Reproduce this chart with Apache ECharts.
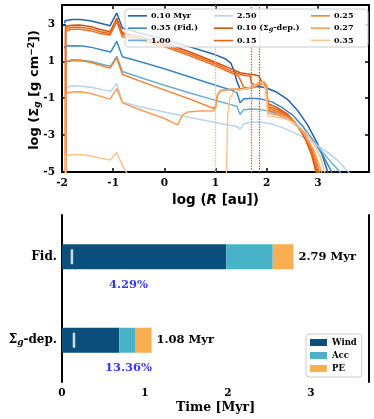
<!DOCTYPE html>
<html lang="en">
  <head>
    <meta charset="UTF-8" />
    <title>Disk dispersal</title>
    <script src="https://cdn.jsdelivr.net/npm/echarts@6/dist/echarts.min.js"></script>
    <style>
      html, body { margin: 0; padding: 0; background: #fff; }
    </style>
  </head>
  <body>
    <div id="main" style="width: 374px; height: 419px"></div>
    <script>
      // gas surface density profiles, [log R (au), log Sigma_g]
      // fiducial model
      const fid010 = [[-1.95,3.05],[-1.94,3.2],[-1.8,3.26],[-1.65,3.27],[-1.45,3.2],[-1.25,3.06],[-1.06,2.93],[-0.93,3.62],[-0.82,2.8],[-0.5,2.55],[0,2.2],[0.5,1.78],[1.0,1.35],[1.2,1.12],[1.3,0.9],[1.36,0.5],[1.42,-0.1],[1.48,-0.5],[1.55,-0.48],[1.7,-0.4],[1.85,-0.37],[2.0,-0.45],[2.2,-0.68],[2.4,-1.05],[2.6,-1.65],[2.8,-2.45],[3.0,-3.5],[3.1,-4.2],[3.2,-5.05]];
      const fid035 = [[-1.95,1.7],[-1.94,1.82],[-1.8,1.84],[-1.6,1.83],[-1.4,1.74],[-1.2,1.6],[-1.05,1.5],[-0.93,2.08],[-0.82,1.25],[-0.5,1.0],[0,0.6],[0.5,0.15],[1.0,-0.3],[1.3,-0.55],[1.42,-0.7],[1.48,-1.25],[1.55,-1.05],[1.7,-1.0],[1.9,-1.05],[2.1,-1.2],[2.3,-1.5],[2.5,-1.9],[2.7,-2.5],[2.9,-3.25],[3.1,-4.1],[3.28,-5.05]];
      const fid100 = [[-1.95,0.95],[-1.94,1.05],[-1.8,1.08],[-1.6,1.06],[-1.4,0.97],[-1.2,0.83],[-1.05,0.73],[-0.93,1.27],[-0.82,0.45],[-0.5,0.15],[0,-0.3],[0.5,-0.72],[1.0,-1.12],[1.3,-1.35],[1.42,-1.45],[1.48,-1.88],[1.55,-1.62],[1.7,-1.58],[1.9,-1.62],[2.1,-1.75],[2.3,-1.98],[2.5,-2.3],[2.7,-2.75],[2.9,-3.3],[3.1,-3.95],[3.3,-4.6],[3.45,-5.05]];
      const fid250 = [[-1.95,-0.45],[-1.94,-0.36],[-1.8,-0.33],[-1.6,-0.35],[-1.4,-0.42],[-1.2,-0.55],[-1.05,-0.63],[-0.93,-0.2],[-0.82,-1.2],[-0.5,-1.45],[0,-1.75],[0.5,-2.05],[1.0,-2.32],[1.3,-2.48],[1.42,-2.55],[1.48,-2.68],[1.55,-2.4],[1.7,-2.3],[1.9,-2.3],[2.1,-2.4],[2.3,-2.58],[2.6,-2.95],[2.9,-3.4],[3.2,-3.95],[3.4,-4.4],[3.62,-5.05]];
      // Sigma_g-dependent wind model
      const dep010 = [[-1.93,-6],[-1.93,2.9],[-1.8,2.95],[-1.65,2.96],[-1.45,2.88],[-1.25,2.72],[-1.06,2.6],[-0.93,3.33],[-0.82,2.55],[-0.5,2.35],[0,2.0],[0.5,1.5],[1.0,0.95],[1.3,0.6],[1.48,0.38],[1.6,0.32],[1.75,0.27],[1.85,0.2],[1.9,-0.1],[1.97,-0.25],[2.03,-1.3],[2.2,-1.5],[2.4,-1.85],[2.6,-2.45],[2.75,-3.2],[2.87,-4.0],[2.97,-5.05]];
      const dep015 = [[-1.93,-6],[-1.93,2.78],[-1.8,2.84],[-1.65,2.85],[-1.45,2.77],[-1.25,2.6],[-1.06,2.5],[-0.93,3.25],[-0.82,2.45],[-0.5,2.25],[0,1.9],[0.5,1.4],[1.0,0.85],[1.3,0.48],[1.48,0.28],[1.6,0.22],[1.68,0.2],[1.7,-0.2],[1.8,-0.28],[1.9,-0.2],[1.97,-0.3],[2.03,-1.45],[2.2,-1.6],[2.4,-1.9],[2.6,-2.45],[2.75,-3.15],[2.88,-3.95],[2.99,-5.05]];
      const dep020 = [[-1.93,-6],[-1.93,2.66],[-1.8,2.73],[-1.65,2.74],[-1.45,2.66],[-1.25,2.5],[-1.06,2.42],[-0.93,3.15],[-0.82,2.33],[-0.5,2.15],[0,1.8],[0.5,1.3],[1.0,0.75],[1.3,0.38],[1.45,0.2],[1.5,-0.1],[1.55,-0.4],[1.65,-0.45],[1.8,-0.35],[1.9,-0.2],[1.98,-0.3],[2.03,-1.55],[2.2,-1.7],[2.4,-1.95],[2.6,-2.45],[2.75,-3.1],[2.9,-3.95],[3.01,-5.05]];
      const dep025 = [[-1.93,-6],[-1.93,0.96],[-1.8,1.03],[-1.65,1.04],[-1.45,0.95],[-1.25,0.78],[-1.06,0.63],[-0.93,1.18],[-0.82,0.3],[-0.5,-0.05],[0,-0.55],[0.5,-1.05],[0.96,-1.55],[1.0,-1.45],[1.04,-0.8],[1.1,-0.58],[1.3,-0.52],[1.6,-0.5],[1.75,-0.42],[1.85,-0.25],[1.95,-0.15],[2.0,-0.3],[2.03,-1.65],[2.2,-1.78],[2.4,-2.0],[2.6,-2.45],[2.75,-3.05],[2.9,-3.85],[3.04,-5.05]];
      const dep027 = [[-1.93,-6],[-1.93,-0.73],[-1.8,-0.66],[-1.65,-0.65],[-1.45,-0.73],[-1.25,-0.9],[-1.06,-1.05],[-0.93,-0.48],[-0.82,-1.25],[-0.5,-1.6],[0,-2.1],[0.26,-2.45],[0.3,-2.2],[0.36,-1.9],[0.45,-1.75],[0.7,-1.7],[0.96,-1.68],[1.0,-1.55],[1.04,-0.85],[1.1,-0.6],[1.3,-0.53],[1.6,-0.5],[1.75,-0.4],[1.85,-0.22],[1.95,-0.12],[2.0,-0.3],[2.03,-1.8],[2.2,-1.9],[2.4,-2.08],[2.6,-2.45],[2.75,-3.0],[2.92,-3.8],[3.08,-5.05]];
      const dep035 = [[-1.93,-6],[-1.93,-4.13],[-1.8,-4.06],[-1.65,-4.05],[-1.45,-4.12],[-1.25,-4.25],[-1.06,-4.35],[-0.93,-3.95],[-0.82,-4.65],[-0.72,-5.1],[-0.6,-6],[1.21,-6],[1.22,-4.0],[1.24,-2.0],[1.28,-1.0],[1.35,-0.7],[1.5,-0.55],[1.65,-0.45],[1.78,-0.25],[1.86,-0.08],[1.92,-0.2],[1.98,-0.5],[2.02,-1.95],[2.2,-2.02],[2.4,-2.15],[2.6,-2.45],[2.8,-2.95],[2.95,-3.6],[3.05,-4.2],[3.14,-5.05]];
      // dotted radii (log R)
      const cutR = [1.0, 1.69, 1.85];

      // dispersal time budget (Myr)
      const models = ['Σg-dep.', 'Fid.'];
      const wind = [0.69, 1.98];
      const acc = [0.19, 0.56];
      const pe = [0.2, 0.25];
      const totals = [1.08, 2.79];
      const pct = [13.36, 4.29];

      const serif = 'DejaVu Serif';
      const sans = 'DejaVu Sans';

      const profiles = [
        { name: '0.10 Myr', data: fid010, color: '#1f63ad' },
        { name: '0.35 (Fid.)', data: fid035, color: '#3a87c6' },
        { name: '1.00', data: fid100, color: '#6aaed6' },
        { name: '2.50', data: fid250, color: '#b7d4ea' },
        { name: '0.10 (Σg-dep.)', data: dep010, color: '#d0510c' },
        { name: '0.15', data: dep015, color: '#e9631a' },
        { name: '0.20', data: dep020, color: '#f06e22' },
        { name: '0.25', data: dep025, color: '#f67f2c' },
        { name: '0.27', data: dep027, color: '#fb9d58' },
        { name: '0.35', data: dep035, color: '#fdc490' },
      ];
      const cutColors = ['#fcb070', '#e8601a', '#d2520e'];

      const frameLine = { onZero: false, lineStyle: { color: '#000', width: 2 } };
      const tickIn = { inside: true, length: 4, lineStyle: { color: '#000', width: 1.5 } };
      const tickLabel = { fontFamily: serif, fontWeight: 'bold', fontSize: 10.5, color: '#000' };

      let myChart = echarts.init(document.getElementById('main'));

      let series = profiles.map(function (p, i) {
        let s = {
          name: p.name,
          type: 'line',
          xAxisIndex: 0,
          yAxisIndex: 0,
          data: p.data,
          symbol: 'none',
          clip: true,
          color: p.color,
          lineStyle: { color: p.color, width: 1.5 },
          animation: false,
        };
        if (i === 4) {
          s.markLine = {
            silent: true,
            symbol: 'none',
            label: { show: false },
            data: cutR.map(function (r, k) {
              return { xAxis: r, lineStyle: { color: cutColors[k], type: 'dotted', width: 1.3 } };
            }),
          };
        }
        return s;
      });

      const barColors = { Wind: '#0b4f7c', Acc: '#48b3c8', PE: '#fbad52' };
      [['Wind', wind], ['Acc', acc], ['PE', pe]].forEach(function (b) {
        let s = {
          name: b[0],
          type: 'bar',
          xAxisIndex: 2,
          yAxisIndex: 2,
          stack: 'time',
          barWidth: 25,
          data: b[1],
          itemStyle: { color: barColors[b[0]] },
          animation: false,
        };
        if (b[0] === 'PE') {
          s.label = {
            show: true,
            position: 'right',
            distance: 5,
            formatter: function (p) {
              return totals[p.dataIndex].toFixed(2) + ' Myr';
            },
            fontFamily: serif,
            fontWeight: 'bold',
            fontSize: 11.5,
            color: '#000',
          };
        }
        series.push(s);
      });

      // photoevaporation onset marks inside the wind bar
      series.push({
        name: 'onset',
        type: 'scatter',
        xAxisIndex: 2,
        yAxisIndex: 2,
        symbol: 'rect',
        symbolSize: [2.5, 15],
        itemStyle: { color: '#fff' },
        z: 5,
        data: models.map(function (m, i) {
          return [(totals[i] * pct[i]) / 100, m];
        }),
        animation: false,
      });
      // percentage text
      series.push({
        name: 'pct',
        type: 'scatter',
        xAxisIndex: 2,
        yAxisIndex: 2,
        symbolSize: 1,
        itemStyle: { color: 'transparent' },
        z: 5,
        data: models.map(function (m, i) {
          return [0.8, m, pct[i]];
        }),
        label: {
          show: true,
          position: 'inside',
          offset: [0, 28],
          formatter: function (p) {
            return p.value[2].toFixed(2) + '%';
          },
          fontFamily: serif,
          fontWeight: 'bold',
          fontSize: 11.5,
          color: '#0000ff',
        },
        animation: false,
      });

      const legendCols = [
        ['0.10 Myr', '0.35 (Fid.)', '1.00'],
        ['2.50', '0.10 (Σg-dep.)', '0.15'],
        ['0.25', '0.27', '0.35'],
      ];
      const legendLeft = [128, 214, 311];
      let legends = legendCols.map(function (col, i) {
        return {
          data: col,
          orient: 'vertical',
          left: legendLeft[i],
          top: 11,
          padding: 0,
          icon: 'rect',
          itemWidth: 19,
          itemHeight: 1.6,
          itemGap: 2.6,
          z: 60,
          selectedMode: false,
          formatter: function (n) {
            return n.replace('Σg', 'Σ{sub|g}');
          },
          textStyle: {
            fontFamily: serif,
            fontWeight: 'bold',
            fontSize: 8,
            lineHeight: 9.7,
            color: '#000',
            padding: [0, 0, 0, -1],
            rich: {
              sub: { fontFamily: serif, fontWeight: 'bold', fontStyle: 'italic', fontSize: 6.5, padding: [3, 0, 0, 0] },
            },
          },
        };
      });
      legends.push({
        data: ['Wind', 'Acc', 'PE'],
        orient: 'vertical',
        left: 306,
        top: 334,
        padding: [4, 5, 4, 4],
        itemWidth: 17,
        itemHeight: 7,
        itemGap: 4,
        icon: 'rect',
        selectedMode: false,
        backgroundColor: 'rgba(255,255,255,0.85)',
        borderColor: '#cccccc',
        borderWidth: 1,
        borderRadius: 3,
        textStyle: { fontFamily: serif, fontWeight: 'bold', fontSize: 8.5, color: '#000' },
      });

      let option = {
        animation: false,
        legend: legends,
        graphic: [
          {
            type: 'rect',
            z: 55,
            shape: { x: 125, y: 9, width: 243, height: 38, r: 3 },
            style: { fill: 'rgba(255,255,255,0.8)', stroke: '#cccccc', lineWidth: 1 },
          },
          {
            // y-axis title of the profile panel
            type: 'text',
            x: 35,
            y: 90,
            rotation: Math.PI / 2,
            style: {
              text: 'log (Σ{sub|g} [g cm{sup|−2}])',
              fontFamily: sans,
              fontWeight: 'bold',
              fontSize: 13,
              fill: '#000',
              align: 'center',
              verticalAlign: 'middle',
              rich: {
                sub: { fontFamily: sans, fontWeight: 'bold', fontStyle: 'italic', fontSize: 9, padding: [6, 0, 0, 0] },
                sup: { fontFamily: sans, fontWeight: 'bold', fontSize: 9, padding: [0, 0, 6, 0] },
              },
            },
          },
        ],
        grid: [
          { left: 62, top: 5, width: 307, height: 167, containLabel: false, outerBoundsMode: 'none' },
          { left: 62, top: 215, width: 307, height: 167, containLabel: false, outerBoundsMode: 'none' },
        ],
        xAxis: [
          {
            gridIndex: 0,
            type: 'value',
            min: -2,
            max: 4,
            interval: 1,
            position: 'bottom',
            axisLine: frameLine,
            axisTick: tickIn,
            splitLine: { show: false },
            axisLabel: Object.assign({ margin: 6, showMaxLabel: false }, tickLabel),
            name: 'log ({i|R} [au])',
            nameLocation: 'middle',
            nameGap: 21,
            nameTextStyle: {
              fontFamily: sans,
              fontWeight: 'bold',
              fontSize: 13.5,
              color: '#000',
              rich: { i: { fontFamily: sans, fontWeight: 'bold', fontStyle: 'italic', fontSize: 13.5 } },
            },
          },
          {
            gridIndex: 0,
            type: 'value',
            min: -2,
            max: 4,
            interval: 1,
            position: 'top',
            axisLine: frameLine,
            axisTick: tickIn,
            splitLine: { show: false },
            axisLabel: { show: false },
          },
          {
            gridIndex: 1,
            type: 'value',
            min: 0,
            max: 3.7,
            interval: 1,
            position: 'bottom',
            axisLine: frameLine,
            axisTick: tickIn,
            splitLine: { show: false },
            axisLabel: Object.assign({ margin: 6, showMaxLabel: false }, tickLabel),
            name: 'Time [Myr]',
            nameLocation: 'middle',
            nameGap: 19,
            nameTextStyle: { fontFamily: serif, fontWeight: 'bold', fontSize: 12.5, color: '#000' },
          },
          {
            gridIndex: 1,
            type: 'value',
            min: 0,
            max: 3.7,
            interval: 1,
            position: 'top',
            axisLine: frameLine,
            axisTick: tickIn,
            splitLine: { show: false },
            axisLabel: { show: false },
          },
        ],
        yAxis: [
          {
            gridIndex: 0,
            type: 'value',
            min: -5,
            max: 4.05,
            interval: 2,
            position: 'left',
            axisLine: frameLine,
            axisTick: tickIn,
            splitLine: { show: false },
            axisLabel: Object.assign({ margin: 7, showMaxLabel: false }, tickLabel),
          },
          {
            gridIndex: 0,
            type: 'value',
            min: -5,
            max: 4.05,
            interval: 2,
            position: 'right',
            axisLine: frameLine,
            axisTick: tickIn,
            splitLine: { show: false },
            axisLabel: { show: false },
          },
          {
            gridIndex: 1,
            type: 'category',
            data: models,
            position: 'left',
            axisLine: frameLine,
            axisTick: Object.assign({ alignWithLabel: true }, tickIn),
            axisLabel: Object.assign(
              {
                margin: 5,
                fontSize: 12,
                formatter: function (v) {
                  return v.replace('Σg', 'Σ{sub|g}');
                },
                rich: {
                  sub: { fontFamily: serif, fontWeight: 'bold', fontStyle: 'italic', fontSize: 9, padding: [5, 0, 0, 0] },
                },
              },
              { fontFamily: serif, fontWeight: 'bold', color: '#000' }
            ),
          },
          {
            gridIndex: 1,
            type: 'category',
            data: models,
            position: 'right',
            axisLine: frameLine,
            axisTick: Object.assign({ alignWithLabel: true }, tickIn),
            axisLabel: { show: false },
          },
        ],
        series: series,
      };

      myChart.setOption(option);
    </script>
  </body>
</html>
